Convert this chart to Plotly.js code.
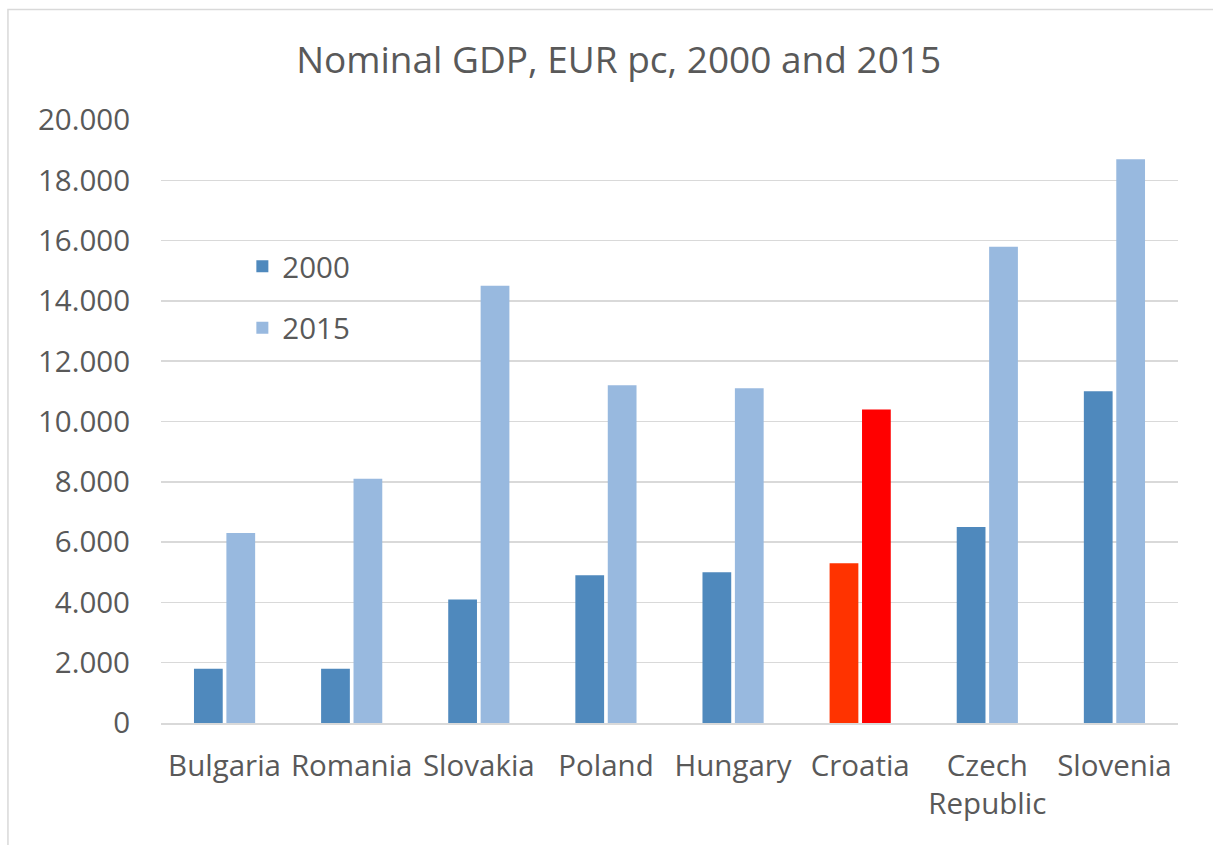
<!DOCTYPE html>
<html>
<head>
<meta charset="utf-8">
<script src="https://cdn.plot.ly/plotly-3.0.1.min.js"></script>
<style>
html,body{margin:0;padding:0;background:#fff;}
#chart{width:1213px;height:845px;}
</style>
</head>
<body>
<div id="chart"></div>
<script>
const categories = ["Bulgaria", "Romania", "Slovakia", "Poland", "Hungary", "Croatia", "Czech<br>Republic", "Slovenia"];
const gdp2000 = [1800, 1800, 4100, 4900, 5000, 5300, 6500, 11000];
const gdp2015 = [6300, 8100, 14500, 11200, 11100, 10400, 15800, 18700];
const colors2000 = ["#4f89bd", "#4f89bd", "#4f89bd", "#4f89bd", "#4f89bd", "#ff3300", "#4f89bd", "#4f89bd"];
const colors2015 = ["#98b9df", "#98b9df", "#98b9df", "#98b9df", "#98b9df", "#ff0000", "#98b9df", "#98b9df"];
const seriesNames = ["2000", "2015"];
const yTicks = [0, 2000, 4000, 6000, 8000, 10000, 12000, 14000, 16000, 18000, 20000];

const FONT = "'Open Sans', Lato, sans-serif";
const TXT = "#595959";

const traces = [
  {type: "bar", name: seriesNames[0], x: categories, y: gdp2000,
   marker: {color: colors2000}, legendgroup: "a", hoverinfo: "x+y"},
  {type: "bar", name: seriesNames[1], x: categories, y: gdp2015,
   marker: {color: colors2015}, legendgroup: "b", hoverinfo: "x+y"}
];

const layout = {
  width: 1213, height: 845,
  margin: {l: 161, r: 35, t: 120, b: 122},
  paper_bgcolor: "#ffffff", plot_bgcolor: "#ffffff",
  separators: ",.",
  font: {family: FONT, color: TXT, size: 29.5},
  title: {text: "Nominal GDP, EUR pc, 2000 and 2015", font: {family: FONT, size: 37, color: TXT},
          x: 0.51, xref: "container", xanchor: "center", y: 0.929, yref: "container", yanchor: "middle"},
  barmode: "group", bargap: 0.49, bargroupgap: 0.113,
  xaxis: {type: "category", showgrid: false, zeroline: false, showline: true, linecolor: "#d9d9d9", linewidth: 1.5,
          ticks: "", tickfont: {size: 29.5, color: TXT}, ticklabelstandoff: 16, fixedrange: true},
  yaxis: {range: [0, 20000], tickvals: yTicks, tickformat: ",d", showgrid: true, gridcolor: "#d9d9d9", gridwidth: 1.5,
          zeroline: false, showline: false, ticks: "", tickfont: {size: 29.5, color: TXT}, ticklabelstandoff: 30, fixedrange: true},
  showlegend: true,
  legend: {x: 0.08, xanchor: "left", y: 0.80, yanchor: "top", bgcolor: "rgba(0,0,0,0)",
           font: {size: 29.5, color: TXT}, traceorder: "grouped", tracegroupgap: 20},
  shapes: [{type: "rect", xref: "paper", yref: "paper", x0: -0.1505, x1: 1.2, y0: -0.4, y1: 1.1833,
            line: {color: "#d9d9d9", width: 1.5}, fillcolor: "rgba(0,0,0,0)", layer: "below"}]
};

Plotly.newPlot("chart", traces, layout, {displayModeBar: false, staticPlot: true});
</script>
</body>
</html>
